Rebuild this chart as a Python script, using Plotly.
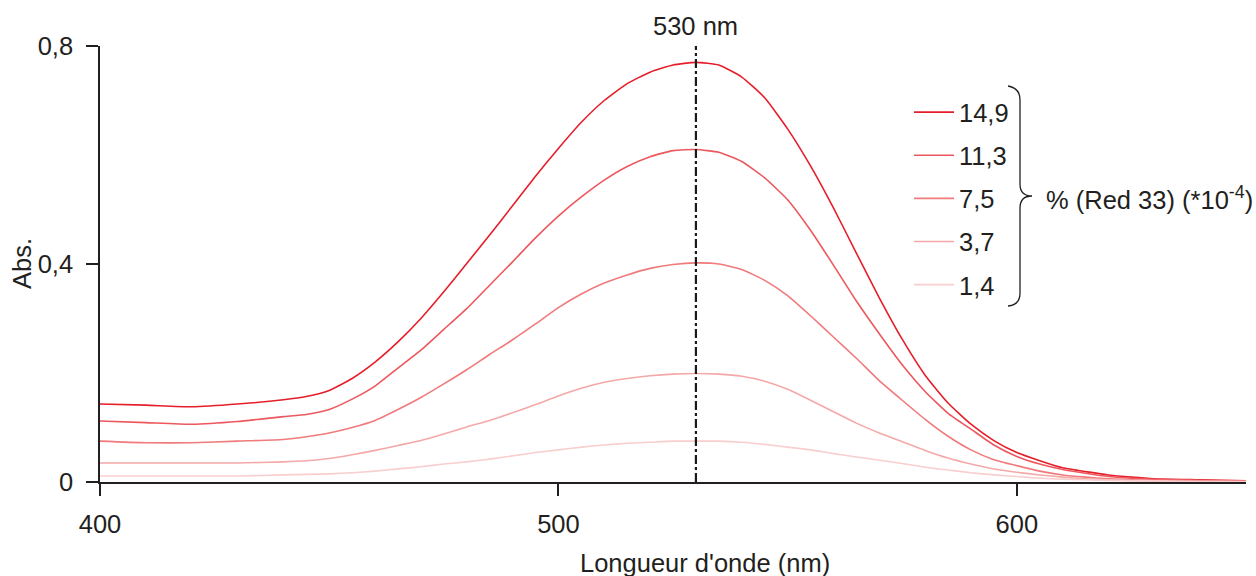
import plotly.graph_objects as go

# Wavelength grid (nm)
wavelength = [400, 410, 420, 430, 440,
              445, 450, 455, 460, 465, 470, 475, 480, 485, 490, 495, 500,
              505, 510, 515, 520, 525, 530, 535, 540, 545, 550, 555, 560,
              565, 570, 575, 580, 585, 590, 595, 600,
              605, 610, 615, 620, 625, 630, 640, 650]

# Absorbance for each Red 33 concentration (% x 1e-4)
abs_14_9 = [0.143, 0.141, 0.138, 0.143, 0.151,
            0.157, 0.168, 0.190, 0.220, 0.257, 0.300, 0.349, 0.401, 0.453, 0.507, 0.561, 0.612,
            0.660, 0.700, 0.731, 0.752, 0.765, 0.770, 0.765, 0.743, 0.705, 0.648, 0.580, 0.503,
            0.420, 0.338, 0.262, 0.196, 0.145, 0.106, 0.076, 0.054,
            0.039, 0.026, 0.019, 0.013, 0.009, 0.006, 0.004, 0.002]
abs_11_3 = [0.112, 0.109, 0.106, 0.111, 0.120,
            0.124, 0.133, 0.152, 0.176, 0.209, 0.242, 0.280, 0.318, 0.361, 0.404, 0.448, 0.488,
            0.523, 0.554, 0.579, 0.597, 0.608, 0.610, 0.605, 0.588, 0.558, 0.518, 0.462, 0.398,
            0.332, 0.272, 0.215, 0.166, 0.126, 0.097, 0.068, 0.047,
            0.033, 0.023, 0.016, 0.010, 0.007, 0.005, 0.003, 0.001]
abs_7_5 = [0.075, 0.072, 0.072, 0.075, 0.078,
           0.083, 0.090, 0.100, 0.113, 0.133, 0.155, 0.180, 0.206, 0.234, 0.261, 0.290, 0.320,
           0.345, 0.365, 0.380, 0.392, 0.399, 0.402, 0.400, 0.390, 0.370, 0.342, 0.305, 0.266,
           0.227, 0.186, 0.150, 0.115, 0.084, 0.059, 0.041, 0.030,
           0.020, 0.013, 0.009, 0.006, 0.004, 0.003, 0.002, 0.001]
abs_3_7 = [0.035, 0.035, 0.035, 0.035, 0.037,
           0.039, 0.043, 0.050, 0.058, 0.067, 0.076, 0.088, 0.101, 0.113, 0.127, 0.142, 0.158,
           0.172, 0.183, 0.190, 0.195, 0.198, 0.199, 0.198, 0.194, 0.185, 0.170, 0.150, 0.129,
           0.108, 0.090, 0.074, 0.058, 0.044, 0.033, 0.024, 0.018,
           0.013, 0.009, 0.006, 0.004, 0.003, 0.002, 0.001, 0.001]
abs_1_4 = [0.011, 0.011, 0.011, 0.011, 0.013,
           0.014, 0.015, 0.017, 0.020, 0.024, 0.028, 0.033, 0.037, 0.042, 0.048, 0.054, 0.059,
           0.064, 0.068, 0.071, 0.073, 0.075, 0.075, 0.075, 0.073, 0.069, 0.064, 0.059, 0.052,
           0.046, 0.040, 0.034, 0.027, 0.022, 0.017, 0.013, 0.010,
           0.007, 0.005, 0.004, 0.003, 0.002, 0.002, 0.001, 0.001]

series_labels = ["14,9", "11,3", "7,5", "3,7", "1,4"]
series_values = [abs_14_9, abs_11_3, abs_7_5, abs_3_7, abs_1_4]
series_colors = ["rgb(230,30,42)", "rgb(236,88,94)", "rgb(240,122,124)",
                 "rgb(245,168,168)", "rgb(249,206,206)"]

x_ticks = [400, 500, 600]
x_tick_text = ["400", "500", "600"]
y_ticks = [0, 0.4, 0.8]
y_tick_text = ["0", "0,4", "0,8"]

peak_nm = 530

TXT = "#231f20"
FONT = "Liberation Sans, Arial, sans-serif"
FS = 25.5

fig = go.Figure()
for lab, vals, col in zip(series_labels, series_values, series_colors):
    fig.add_trace(go.Scatter(
        x=wavelength, y=vals, mode="lines", name=lab, legendgroup=lab,
        line=dict(color=col, width=1.6, shape="spline", smoothing=0.5),
    ))

# plot area in pixels
L, R, T, B = 100, 10, 46, 94
W, H = 1256, 576
pw, ph = W - L - R, H - T - B

def px(xp):
    return (xp - L) / pw

def py(yp):
    return (H - B - yp) / ph

# vertical dash-dot marker at the absorbance maximum
fig.add_shape(type="line", xref="x", yref="y", x0=peak_nm, x1=peak_nm, y0=0, y1=0.8,
              line=dict(color="#1a1a1a", width=2.2, dash="dashdot"))
fig.add_annotation(x=peak_nm, xref="x", y=py(26), yref="paper", text=f"{peak_nm} nm",
                   xanchor="center", yanchor="middle", showarrow=False,
                   font=dict(size=FS, color=TXT, family=FONT))

# curly brace grouping the legend entries
brace = (f"M {px(1008)},{py(86)} "
         f"Q {px(1020)},{py(88)} {px(1020)},{py(100)} "
         f"L {px(1020)},{py(184)} "
         f"Q {px(1020)},{py(196)} {px(1032)},{py(196)} "
         f"Q {px(1020)},{py(196)} {px(1020)},{py(208)} "
         f"L {px(1020)},{py(293)} "
         f"Q {px(1020)},{py(305)} {px(1008)},{py(306)}")
fig.add_shape(type="path", xref="paper", yref="paper", path=brace,
              line=dict(color=TXT, width=1.3))
fig.add_annotation(x=px(1044), y=py(198), xref="paper", yref="paper",
                   xanchor="left", yanchor="middle",
                   text="% (Red 33) (*10<sup>-4</sup>)", showarrow=False,
                   font=dict(size=FS, color=TXT, family=FONT))

# axis titles
fig.add_annotation(x=px(705), y=py(563), xref="paper", yref="paper",
                   xanchor="center", yanchor="middle",
                   text="Longueur d'onde (nm)", showarrow=False,
                   font=dict(size=FS, color=TXT, family=FONT))
fig.add_annotation(x=px(22), y=py(264), xref="paper", yref="paper", textangle=-90,
                   xanchor="center", yanchor="middle",
                   text="Abs.", showarrow=False,
                   font=dict(size=FS, color=TXT, family=FONT))

axis_common = dict(showgrid=False, zeroline=False, showline=True, linecolor=TXT,
                   linewidth=1.5, ticks="outside", ticklen=12, tickwidth=1.5,
                   tickcolor=TXT, tickfont=dict(size=FS, color=TXT, family=FONT))

fig.update_layout(
    width=W, height=H, margin=dict(l=L, r=R, t=T, b=B),
    paper_bgcolor="white", plot_bgcolor="white",
    font=dict(family=FONT, size=FS, color=TXT),
    xaxis=dict(range=[400, 650], tickvals=x_ticks, ticktext=x_tick_text,
               ticklabelstandoff=7, **axis_common),
    yaxis=dict(range=[0, 0.8], tickvals=y_ticks, ticktext=y_tick_text,
               ticklabelstandoff=8, **axis_common),
    legend=dict(x=px(909), y=py(89), xanchor="left", yanchor="top",
                bgcolor="rgba(0,0,0,0)", tracegroupgap=7,
                font=dict(size=FS, color=TXT, family=FONT), itemwidth=40),
    showlegend=True,
)

fig.write_html("out.html")
